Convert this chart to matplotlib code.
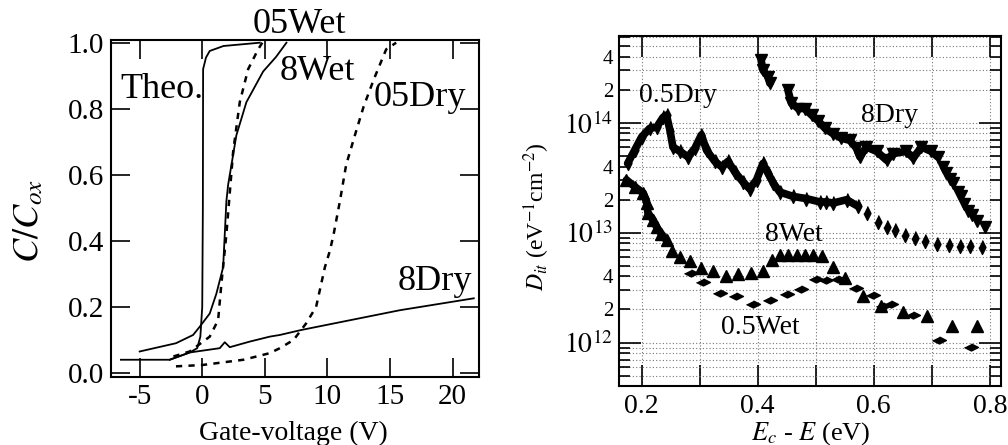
import numpy as np
import matplotlib
matplotlib.use("Agg")
import matplotlib.pyplot as plt
from matplotlib.ticker import FixedLocator, FuncFormatter, LogLocator, MultipleLocator

plt.rcParams["font.family"] = ["Liberation Serif", "DejaVu Serif"]
plt.rcParams["mathtext.fontset"] = "stix"
plt.rcParams["axes.unicode_minus"] = False

# ---- left panel: C/Cox vs gate voltage ----
theo_v = [-2.6, -1.0, -0.4, -0.15, 0.0, 0.05, 0.07, 0.3, 0.6, 1.7, 4.6]
theo_c = [0.04, 0.062, 0.075, 0.11, 0.2, 0.5, 0.92, 0.955, 0.975, 0.99, 1.0]

wet8_v = [-5.0, -2.1, -0.73, -0.2, 0.6, 1.13, 1.4, 1.67, 1.93, 2.07, 2.73, 3.53, 4.87, 5.9, 6.73]
wet8_c = [0.065, 0.09, 0.115, 0.14, 0.18, 0.24, 0.28, 0.32, 0.52, 0.57, 0.72, 0.82, 0.913, 0.957, 1.0]

wet05_v = [-2.3, -1.0, 0.6, 1.27, 1.53, 1.93, 2.47, 3.0, 3.67, 4.47, 4.8]
wet05_c = [0.05, 0.065, 0.11, 0.16, 0.27, 0.42, 0.67, 0.82, 0.92, 0.98, 1.0]

dry8_v = [-6.5, -2.6, -1.0, 1.4, 1.8, 2.2, 3.8, 5.4, 6.2, 7.9, 15.8, 21.7]
dry8_c = [0.04, 0.04, 0.062, 0.075, 0.093, 0.078, 0.095, 0.11, 0.115, 0.13, 0.19, 0.226]

dry05_v = [-2.1, 0.0, 3.3, 5.4, 6.2, 7.3, 7.9, 8.3, 9.1, 9.8, 10.2, 10.5, 11.0, 11.5,
           12.2, 12.9, 13.7, 14.7, 15.5]
dry05_c = [0.02, 0.024, 0.04, 0.06, 0.075, 0.10, 0.13, 0.15, 0.2, 0.32, 0.37, 0.42, 0.52,
           0.63, 0.72, 0.807, 0.888, 0.98, 1.0]

# ---- right panel: Dit vs Ec - E (log10 of Dit) ----
dry05_e = [0.176, 0.188, 0.200, 0.214, 0.226, 0.237, 0.243, 0.249, 0.254, 0.266, 0.280,
           0.292, 0.303, 0.312, 0.326, 0.338, 0.349, 0.361, 0.375, 0.386, 0.398, 0.409,
           0.418, 0.427, 0.438, 0.461, 0.484, 0.507, 0.518, 0.530, 0.553, 0.573,
           0.588, 0.608, 0.622, 0.637, 0.654, 0.671, 0.689, 0.709, 0.729, 0.749, 0.766, 0.786]
dry05_log = [13.63, 13.75, 13.87, 13.95, 13.96, 14.05, 14.07, 13.93, 13.78, 13.74, 13.69,
             13.77, 13.89, 13.75, 13.65, 13.60, 13.65, 13.55, 13.46, 13.40, 13.48, 13.63,
             13.54, 13.45, 13.37, 13.33, 13.31, 13.28, 13.28, 13.27, 13.30, 13.24,
             13.18, 13.10, 13.05, 13.02, 12.98, 12.95, 12.92, 12.90, 12.89, 12.88, 12.88, 12.87]
dry05_dense = 32

dry8_e = [0.406, 0.409, 0.418, 0.421,
          0.452, 0.458, 0.470, 0.481, 0.493, 0.504, 0.516, 0.530, 0.544, 0.559, 0.570,
          0.576, 0.587, 0.605, 0.622, 0.633, 0.656, 0.668, 0.682, 0.699, 0.710,
          0.719, 0.725, 0.731, 0.736, 0.745, 0.750, 0.756, 0.763, 0.770, 0.777, 0.791]
dry8_log = [14.57, 14.48, 14.42, 14.36,
            14.30, 14.18, 14.13, 14.13, 14.07, 14.02, 13.95, 13.90, 13.86, 13.84, 13.77,
            13.69, 13.78, 13.74, 13.66, 13.72, 13.74, 13.68, 13.78, 13.74, 13.69,
            13.60, 13.54, 13.49, 13.45, 13.37, 13.33, 13.26, 13.20, 13.16, 13.11, 13.05]
dry8_gap = 4
dry8_dense = 25

wet8_e = [0.174, 0.188, 0.203, 0.209, 0.211, 0.220, 0.226, 0.234, 0.243,
          0.252, 0.266, 0.283, 0.303, 0.323, 0.346, 0.366, 0.389, 0.409, 0.424, 0.438,
          0.452, 0.467, 0.481, 0.495, 0.510, 0.530, 0.550, 0.581, 0.613, 0.650, 0.691,
          0.734, 0.777]
wet8_log = [13.48, 13.42, 13.36, 13.27, 13.18, 13.115, 13.05, 12.99, 12.93,
            12.83, 12.78, 12.74, 12.68, 12.65, 12.61, 12.62, 12.63, 12.65, 12.75, 12.80,
            12.80, 12.80, 12.80, 12.80, 12.79, 12.69, 12.59, 12.42, 12.33, 12.28, 12.24,
            12.15, 12.15]
wet8_dense = 9

wet05_e = [0.286, 0.306, 0.335, 0.363, 0.392, 0.421, 0.450, 0.475, 0.501, 0.518, 0.538,
           0.570, 0.599, 0.616, 0.630, 0.668, 0.713, 0.768]
wet05_log = [12.63, 12.555, 12.45, 12.42, 12.35, 12.39, 12.44, 12.49, 12.58, 12.57, 12.58,
             12.50, 12.43, 12.33, 12.35, 12.25, 12.025, 11.96]

fig = plt.figure(figsize=(10.08, 4.45), dpi=100)

# left
ax1 = fig.add_axes([0.110, 0.153, 0.365, 0.757])
ax1.plot(theo_v, theo_c, color="black", lw=1.3)
ax1.plot(wet8_v, wet8_c, color="black", lw=1.3)
ax1.plot(dry8_v, dry8_c, color="black", lw=1.3)
ax1.plot(wet05_v, wet05_c, color="black", lw=1.8, ls=(0, (2.5, 2.5)))
ax1.plot(dry05_v, dry05_c, color="black", lw=1.8, ls=(0, (2.5, 2.5)))
ax1.set_xlim(-7.3, 22.1)
ax1.set_ylim(-0.012, 1.008)
ax1.xaxis.set_major_locator(FixedLocator([-5, 0, 5, 10, 15, 20]))
ax1.yaxis.set_major_locator(FixedLocator([0, 0.2, 0.4, 0.6, 0.8, 1.0]))
ax1.yaxis.set_major_formatter(FuncFormatter(lambda v, p: f"{v:.1f}"))
ax1.tick_params(direction="in", top=True, right=True, length=14, width=1.2,
                labelsize=21, pad=5)
ax1.set_xlabel("Gate-voltage (V)", fontsize=20)
ax1.xaxis.set_label_coords(0.497, -0.13)
ax1.set_ylabel(r"$C/C_{ox}$", fontsize=26)
ax1.yaxis.set_label_coords(-0.175, 0.463)
for sp in ax1.spines.values():
    sp.set_linewidth(1.5)
lab = dict(fontsize=26, ha="center", va="center", clip_on=False)
ax1.text(7.8, 1.055, "05Wet", **lab)
ax1.text(-3.2, 0.858, "Theo.", **lab)
ax1.text(9.2, 0.912, "8Wet", **lab)
ax1.text(17.4, 0.833, "05Dry", **lab)
ax1.text(18.6, 0.276, "8Dry", **lab)

# right
ax2 = fig.add_axes([0.614, 0.133, 0.379, 0.786])
ax2.set_yscale("log")


def draw(e, lg, marker, ms, dense=None):
    d = 10 ** np.array(lg)
    e = np.array(e)
    if dense is not None:
        for a, b in dense:
            ax2.plot(e[a:b], d[a:b], color="black", lw=5.5, solid_joinstyle="round",
                     solid_capstyle="round")
    ax2.plot(e, d, ls="none", marker=marker, ms=ms, color="black", mec="black")


tall_d = [(0, 1), (0.5, 0), (0, -1), (-0.5, 0)]
wide_d = [(0, 0.5), (1, 0), (0, -0.5), (-1, 0)]
draw(dry05_e, dry05_log, tall_d, 10, [(0, dry05_dense)])
draw(dry8_e, dry8_log, "v", 8.5, [(0, dry8_gap), (dry8_gap, dry8_dense)])
draw(wet8_e, wet8_log, "^", 8.5, [(0, wet8_dense)])
draw(wet05_e, wet05_log, wide_d, 10)

ax2.set_xlim(0.161, 0.819)
ax2.set_ylim(10 ** 11.606, 10 ** 14.79)
ax2.xaxis.set_major_locator(MultipleLocator(0.1))
ax2.xaxis.set_major_formatter(FuncFormatter(
    lambda v, p: f"{v:.1f}" if round(v * 10) % 2 == 0 else ""))
ax2.yaxis.set_major_locator(LogLocator(base=10, numticks=10))
ax2.yaxis.set_major_formatter(FuncFormatter(
    lambda v, p: r"$10^{%d}$" % round(np.log10(v))))
ax2.yaxis.set_minor_locator(LogLocator(base=10, subs=np.arange(2, 10), numticks=20))


def minor_fmt(v, p):
    m = v / 10 ** np.floor(np.log10(v) + 1e-9)
    return f"{m:.0f}" if round(m) in (2, 4) else ""


ax2.yaxis.set_minor_formatter(FuncFormatter(minor_fmt))
ax2.tick_params(which="major", direction="in", top=True, right=True, length=15,
                width=1.2, labelsize=20, pad=6)
ax2.tick_params(which="minor", direction="in", top=True, right=True, length=8,
                width=1.2, labelsize=15, pad=4)
ax2.tick_params(axis="y", which="major", length=16, pad=4)
ax2.grid(True, axis="y", which="both", ls=(0, (1, 2)), color="#777777", lw=0.8)
ax2.grid(True, axis="x", which="major", ls=(0, (1, 2)), color="#777777", lw=0.8)
ax2.set_xlabel(r"$E_c$ - $E$ (eV)", fontsize=19)
ax2.xaxis.set_label_coords(0.502, -0.097)
ax2.set_ylabel(r"$D_{it}$ (eV$^{-1}$cm$^{-2}$)", fontsize=17)
ax2.yaxis.set_label_coords(-0.175, 0.483)
for sp in ax2.spines.values():
    sp.set_linewidth(1.5)
lab2 = dict(fontsize=20, ha="center", va="center")
ax2.text(0.263, 10 ** 14.25, "0.5Dry", **lab2)
ax2.text(0.627, 10 ** 14.07, "8Dry", **lab2)
ax2.text(0.462, 10 ** 12.98, "8Wet", **lab2)
ax2.text(0.405, 10 ** 12.14, "0.5Wet", **lab2)

fig.savefig("out.png", dpi=100)
